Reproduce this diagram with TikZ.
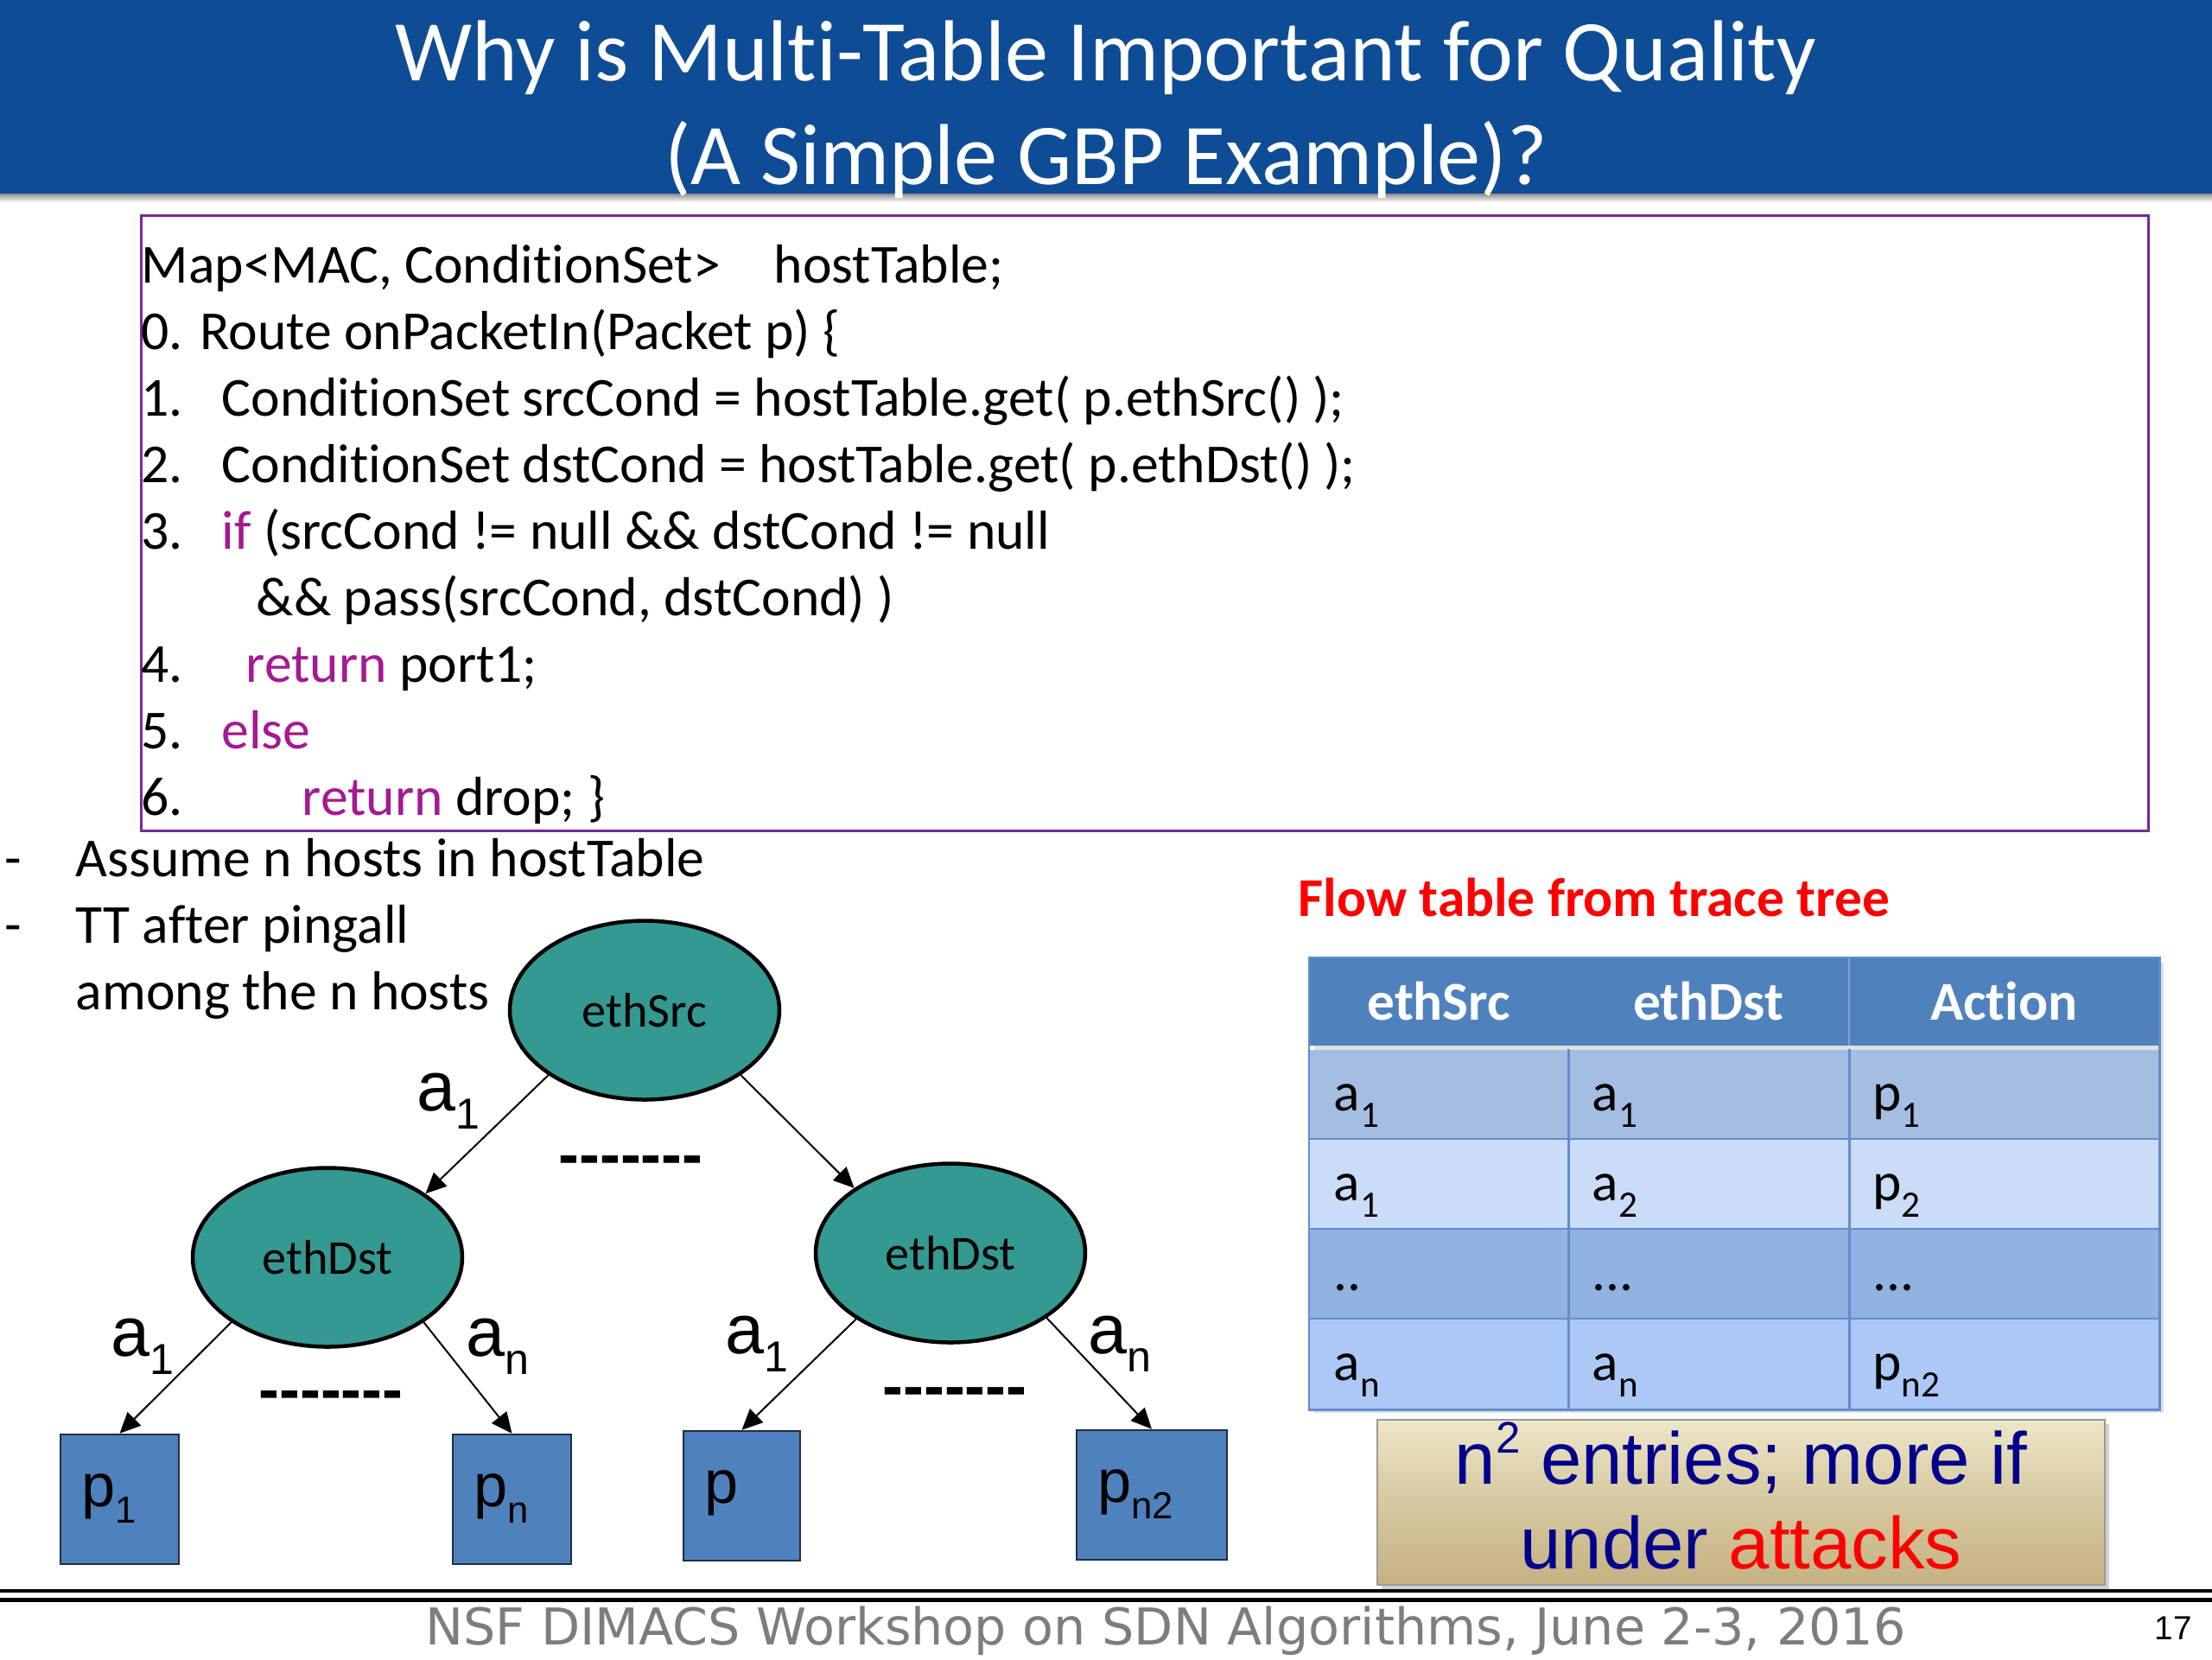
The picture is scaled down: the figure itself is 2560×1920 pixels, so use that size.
\documentclass[tikz,border=0pt]{standalone}
\usepackage{fontspec}
\setmainfont[Ligatures=CommonOff]{Carlito}
\newfontfamily\arialf{Liberation Sans}
\newfontfamily\footf{DejaVu Sans}
\usetikzlibrary{arrows.meta,shapes.geometric,calc}
\newlength\px \setlength\px{0.01cm}
\definecolor{titlebg}{RGB}{14,76,150}
\definecolor{codeborder}{RGB}{120,40,150}
\definecolor{kwcol}{RGB}{165,25,145}
\definecolor{tealfill}{RGB}{51,153,145}
\definecolor{boxblue}{RGB}{79,129,189}
\definecolor{boxedge}{RGB}{35,45,70}
\definecolor{hdrblue}{RGB}{79,129,189}
\definecolor{rowA}{RGB}{164,190,226}
\definecolor{rowB}{RGB}{202,220,248}
\definecolor{rowC}{RGB}{146,178,226}
\definecolor{rowD}{RGB}{172,200,246}
\definecolor{gridblue}{RGB}{98,140,205}
\definecolor{navytext}{RGB}{0,0,140}
\definecolor{footgray}{RGB}{125,125,125}
\definecolor{goldtop}{RGB}{238,230,200}
\definecolor{goldmid}{RGB}{214,200,160}
\definecolor{goldbot}{RGB}{196,178,130}
\newcommand\sbs[1]{\raisebox{-0.27em}{\scalebox{0.62}{#1}}}
\newcommand\tsb[1]{\raisebox{-0.3em}{\scalebox{0.68}{#1}}}
\newcommand\sps[1]{\raisebox{0.42em}{\scalebox{0.6}{#1}}}
\newcommand\kw[1]{\textcolor{kwcol}{#1}}
\begin{document}
\begin{tikzpicture}[x=0.01cm,y=-0.01cm,
  titletext/.style={text=white, font=\fontsize{28.5}{34}\selectfont, inner sep=0},
  codeline/.style={anchor=base west, inner sep=0, font=\fontsize{18.1}{22}\selectfont},
  tnode/.style={ellipse, draw=black, line width=4.5\px, fill=tealfill, minimum width=312\px, minimum height=207\px, inner sep=0, font=\fontsize{16}{16}\selectfont},
  pbox/.style={rectangle, draw=boxedge, line width=2.5\px, fill=boxblue, minimum height=150\px, inner xsep=24\px, inner ysep=0, align=left, text height=10pt, text depth=5.4pt, font=\arialf\fontsize{20}{20}\selectfont},
  arr/.style={-{Triangle[length=6.8pt,width=6.2pt]}, line width=2\px, black},
  elabel/.style={anchor=base west, inner sep=0, font=\arialf\fontsize{23}{23}\selectfont},
  dashtext/.style={anchor=base, inner sep=0, font=\arialf\bfseries\fontsize{20.4}{20}\selectfont},
  hcell/.style={rectangle, anchor=north west, inner sep=0, fill=hdrblue, minimum height=101\px, text=white, font=\bfseries\fontsize{18}{18}\selectfont, text height=13pt, text depth=0.8pt},
  bcell/.style={rectangle, anchor=north west, inner xsep=28\px, inner ysep=0, minimum height=104\px, align=left, font=\fontsize{18}{18}\selectfont, text height=12pt, text depth=1.2pt},
  gridl/.style={draw=gridblue, line width=2.5\px},
  goldtext/.style={anchor=base, inner sep=0, text=navytext, font=\arialf\fontsize{24.2}{24}\selectfont}
]
\useasboundingbox (0,0) rectangle (2560,1920);
\fill[white] (0,0) rectangle (2560,1920);

% title band
\fill[titlebg] (0,0) rectangle (2560,224);
\shade[top color=black!45, bottom color=white] (0,224) rectangle (2560,234);
\node[titletext, anchor=base] (title1) at (1280,93) {Why is Multi-Table Important for Quality};
\node[titletext, anchor=base] (title2) at (1280,213) {(A Simple GBP Example)?};

% code box
\node[draw=codeborder, line width=3\px, minimum width=2323\px, minimum height=712\px, inner sep=0, anchor=north west] (codebox) at (162,248) {};
\node[codeline] (c0) at (163,327) {Map<MAC, ConditionSet>\hspace{62\px}hostTable;};
\node[codeline] (c1) at (163,404) {0. Route onPacketIn(Packet p) \{};
\node[codeline] (c2) at (163,481) {\makebox[93\px][l]{1.}ConditionSet srcCond = hostTable.get( p.ethSrc() );};
\node[codeline] (c3) at (163,558) {\makebox[93\px][l]{2.}ConditionSet dstCond = hostTable.get( p.ethDst() );};
\node[codeline] (c4) at (163,635) {\makebox[93\px][l]{3.}\kw{if} (srcCond != null \&\& dstCond != null};
\node[codeline] (c5) at (163,712) {\hspace*{133\px}\&\& pass(srcCond, dstCond) )};
\node[codeline] (c6) at (163,789) {\makebox[121\px][l]{4.}\kw{return} port1;};
\node[codeline] (c7) at (163,866) {\makebox[93\px][l]{5.}\kw{else}};
\node[codeline] (c8) at (163,943) {\makebox[186\px][l]{6.}\kw{return} drop; \}};

% bullets
\node[codeline, anchor=base] (d1) at (15,1014) {-};
\node[codeline] (b1) at (87,1014) {Assume n hosts in hostTable};
\node[codeline, anchor=base] (d2) at (15,1091) {-};
\node[codeline] (b2) at (87,1091) {TT after pingall};
\node[codeline] (b3) at (87,1168) {among the n hosts};

% tree
\node[tnode] (src) at (746,1169) {ethSrc};
\node[tnode] (ldst) at (379,1455) {ethDst};
\node[tnode] (rdst) at (1100,1450) {ethDst};
\node[pbox, text width=89\px] (p1) at (138.5,1735) {p\sbs{1}};
\node[pbox, text width=89\px] (pn) at (592.5,1735) {p\sbs{n}};
\node[pbox, text width=87\px] (pp) at (858.5,1731) {p};
\node[pbox, text width=126\px] (pn2) at (1333,1730) {p\sbs{n2}};

\draw[arr] (src.214) -- (ldst.33);
\draw[arr] (src.326) -- (rdst.146);
\draw[arr] (ldst.214) -- (p1.north);
\draw[arr] (ldst.326) -- (pn.north);
\draw[arr] (rdst.215) -- (pp.north);
\draw[arr] (rdst.326) -- (pn2.north);

\node[elabel] (la1) at (482,1285) {a\sbs{1}};
\node[elabel] (lb1) at (128,1569) {a\sbs{1}};
\node[elabel] (lbn) at (539,1569) {a\sbs{n}};
\node[elabel] (lc1) at (839,1566) {a\sbs{1}};
\node[elabel] (lcn) at (1259,1566) {a\sbs{n}};

\node[dashtext] (dash1) at (730,1360) {-------};
\node[dashtext] (dash2) at (383,1632) {-------};
\node[dashtext] (dash3) at (1105,1628) {-------};

% flow table
\node[anchor=base west, inner sep=0, text=red, font=\bfseries\fontsize{18}{18}\selectfont] (ftitle) at (1502,1060) {Flow table from trace tree};

\fill[black!12] (1521,1114) rectangle (2504,1635);
\node[hcell, minimum width=299\px] (h1) at (1515,1108) {ethSrc};
\node[hcell, minimum width=325\px] (h2) at (1814,1108) {ethDst};
\node[hcell, minimum width=359\px] (h3) at (2139,1108) {Action};

\node[bcell, fill=rowA, text width=243\px] (r1c1) at (1515,1214) {a\tsb{1}};
\node[bcell, fill=rowA, text width=269\px] (r1c2) at (1814,1214) {a\tsb{1}};
\node[bcell, fill=rowA, text width=303\px] (r1c3) at (2139,1214) {p\tsb{1}};
\node[bcell, fill=rowB, text width=243\px] (r2c1) at (1515,1318) {a\tsb{1}};
\node[bcell, fill=rowB, text width=269\px] (r2c2) at (1814,1318) {a\tsb{2}};
\node[bcell, fill=rowB, text width=303\px] (r2c3) at (2139,1318) {p\tsb{2}};
\node[bcell, fill=rowC, text width=243\px] (r3c1) at (1515,1422) {..};
\node[bcell, fill=rowC, text width=269\px] (r3c2) at (1814,1422) {...};
\node[bcell, fill=rowC, text width=303\px] (r3c3) at (2139,1422) {...};
\node[bcell, fill=rowD, text width=243\px] (r4c1) at (1515,1526) {a\tsb{n}};
\node[bcell, fill=rowD, text width=269\px] (r4c2) at (1814,1526) {a\tsb{n}};
\node[bcell, fill=rowD, text width=303\px] (r4c3) at (2139,1526) {p\tsb{n2}};

\draw[gridl] (r1c1.north east) -- (r4c1.south east);
\draw[gridl] (r1c2.north east) -- (r4c2.south east);
\draw[draw=gridblue!80!white, line width=2\px] (h2.north east) -- (h2.south east);
\draw[gridl] (r2c1.north west) -- (r2c3.north east);
\draw[gridl] (r3c1.north west) -- (r3c3.north east);
\draw[gridl] (r4c1.north west) -- (r4c3.north east);
\draw[gridl] (h1.north west) -- (h3.north east) -- (r4c3.south east) -- (r4c1.south west) -- cycle;

% gold box
\fill[black!18] (1599,1648) rectangle (2441,1839);
\node[rectangle, draw=black!40, line width=2\px, top color=goldtop, bottom color=goldbot, middle color=goldmid, minimum width=842\px, minimum height=191\px, inner sep=0] (gold) at (2015,1738.5) {};
\node[goldtext] (gl1) at (2015,1717) {n\sps{2} entries; more if};
\node[goldtext] (gl2) at (2015,1815) {under \textcolor{red}{attacks}};

% footer
\draw[black, line width=4\px] (0,1841) -- (2560,1841);
\draw[black, line width=5\px] (0,1851) -- (2560,1851);
\node[anchor=base, inner sep=0, text=footgray, font=\footf\fontsize{16.7}{16}\selectfont] (foot) at (1349,1903) {NSF DIMACS Workshop on SDN Algorithms, June 2-3, 2016};
\node[anchor=base, inner sep=0, font=\arialf\fontsize{11}{11}\selectfont] (pgnum) at (2515,1897) {17};
\end{tikzpicture}
\end{document}
